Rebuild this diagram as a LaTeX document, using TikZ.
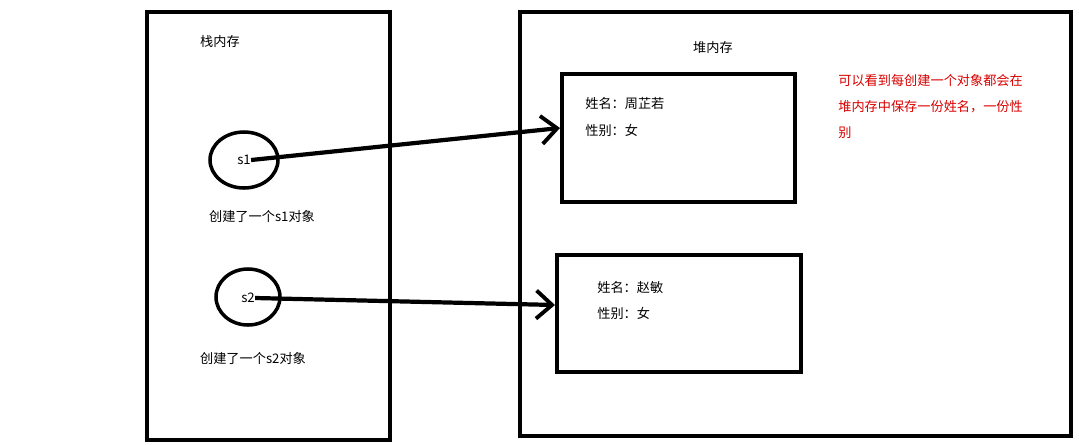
\documentclass[tikz,border=0pt]{standalone}
\usepackage{fontspec}
\newfontfamily\cjk{Noto Sans CJK SC}
\usetikzlibrary{arrows.meta}
\begin{document}
\begin{tikzpicture}[x=0.02cm,y=-0.02cm,
  frame/.style={draw,line width=2.2pt},
  obj/.style={draw,line width=1.8pt},
  lbl/.style={font=\cjk\fontsize{7.5}{9}\selectfont,inner sep=0pt},
  ptr/.style={line width=2.4pt,-{Straight Barb[length=9pt,width=16pt,line width=2.2pt]}}]
\useasboundingbox (0,0) rectangle (1079,444);
\fill[white] (0,0) rectangle (1079,444);
\draw[frame] (147,12) rectangle (390,440);
\draw[frame] (520,12) rectangle (1071,436);
\draw[obj] (562,74) rectangle (795,202);
\coordinate (b1) at (560,128);
\draw[obj] (557,255) rectangle (801,372);
\coordinate (b2) at (555,305);
\draw[line width=2pt] (244,160) ellipse [x radius=34,y radius=28];
\draw[line width=2pt] (248,297) ellipse [x radius=32,y radius=28];
\node[lbl] (t1) at (220,42) {栈内存};
\node[lbl] (t2) at (713,48) {堆内存};
\node[lbl] (s1) at (244,160) {s1};
\node[lbl] (s2) at (248,298) {s2};
\node[lbl] (c1) at (262,216) {创建了一个s1对象};
\node[lbl] (c2) at (253,358) {创建了一个s2对象};
\node[lbl,anchor=west] (n1) at (585,104) {姓名：周芷若};
\node[lbl,anchor=west] (g1) at (585,130) {性别：女};
\node[lbl,anchor=west] (n2) at (597,287) {姓名：赵敏};
\node[lbl,anchor=west] (g2) at (597,313) {性别：女};
\node[lbl,anchor=west,text=red!85!black] (r1) at (838,80) {可以看到每创建一个对象都会在};
\node[lbl,anchor=west,text=red!85!black] (r2) at (838,107) {堆内存中保存一份姓名，一份性};
\node[lbl,anchor=west,text=red!85!black] (r3) at (838,133) {别};
\draw[ptr] (s1.east) -- (b1);
\draw[ptr] (s2.east) -- (b2);
\end{tikzpicture}
\end{document}
